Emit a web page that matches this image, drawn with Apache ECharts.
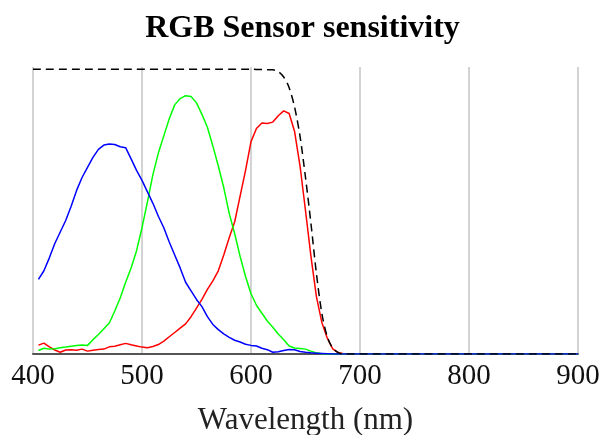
<!DOCTYPE html>
<html>
<head>
<meta charset="utf-8">
<script src="https://cdn.jsdelivr.net/npm/echarts@6/dist/echarts.min.js"></script>
<style>
  html, body { margin: 0; padding: 0; background: #fff; }
  #chart { width: 605px; height: 435px; }
</style>
</head>
<body>
<div id="chart"></div>
<script>
// Sampling wavelengths (nm) for the three colour channels
const wavelengths = [
  405, 410, 415, 420, 425, 430, 435, 440, 445, 450,
  455, 460, 465, 470, 475, 480, 485, 490, 495, 500,
  505, 510, 515, 520, 525, 530, 535, 540, 545, 550,
  555, 560, 565, 570, 575, 580, 585, 590, 595, 600,
  605, 610, 615, 620, 625, 630, 635, 640, 645, 650,
  655, 660, 665, 670, 675, 680, 685, 690, 695, 700,
  900
];

const blueResponse = [
  0.26, 0.29, 0.335, 0.385, 0.425, 0.465, 0.515, 0.57, 0.615, 0.65,
  0.685, 0.713, 0.728, 0.732, 0.73, 0.722, 0.719, 0.68, 0.64, 0.605,
  0.565, 0.525, 0.48, 0.44, 0.39, 0.345, 0.30, 0.25, 0.22, 0.19,
  0.165, 0.13, 0.103, 0.085, 0.07, 0.058, 0.048, 0.042, 0.034, 0.030,
  0.028, 0.02, 0.015, 0.006, 0.008, 0.012, 0.016, 0.015, 0.009, 0.006,
  0.004, 0.003, 0.002, 0.001, 0, 0, 0, 0, 0, 0,
  0
];

const greenResponse = [
  0.012, 0.02, 0.017, 0.018, 0.022, 0.024, 0.027, 0.03, 0.031, 0.03,
  0.05, 0.068, 0.088, 0.108, 0.15, 0.195, 0.25, 0.30, 0.36, 0.44,
  0.53, 0.625, 0.70, 0.76, 0.82, 0.868, 0.89, 0.90, 0.897, 0.875,
  0.835, 0.79, 0.725, 0.655, 0.58, 0.49, 0.42, 0.34, 0.27, 0.21,
  0.17, 0.142, 0.115, 0.093, 0.07, 0.05, 0.028, 0.021, 0.019, 0.017,
  0.01, 0.004, 0.001, 0, 0, 0, 0, 0, 0, 0,
  0
];

const redResponse = [
  0.031, 0.038, 0.025, 0.014, 0.006, 0.014, 0.015, 0.013, 0.017, 0.01,
  0.013, 0.016, 0.017, 0.025, 0.027, 0.032, 0.037, 0.032, 0.028, 0.024,
  0.022, 0.026, 0.033, 0.045, 0.06, 0.075, 0.09, 0.105, 0.13, 0.16,
  0.19, 0.225, 0.255, 0.29, 0.345, 0.405, 0.46, 0.55, 0.64, 0.74,
  0.786, 0.805, 0.803, 0.808, 0.83, 0.847, 0.838, 0.775, 0.655, 0.5,
  0.34, 0.2, 0.11, 0.055, 0.018, 0.005, 0.001, 0, 0, 0,
  0
];

// IR-cut filter transmission
const filterWavelengths = [400, 600, 610, 620, 625, 630, 635, 640, 645, 650, 655, 660, 665, 670, 675, 680, 685, 900];
const filterTransmission = [0.992, 0.992, 0.991, 0.99, 0.984, 0.965, 0.928, 0.86, 0.758, 0.615, 0.455, 0.281, 0.142, 0.06, 0.02, 0.005, 0, 0];

const xTicks = [400, 500, 600, 700, 800, 900];

function pairs(xs, ys) {
  return xs.map((x, i) => [x, ys[i]]);
}

const serif = '"Liberation Serif", "DejaVu Serif", serif';

const chart = echarts.init(document.getElementById('chart'), null, { renderer: 'canvas' });

chart.setOption({
  animation: false,
  backgroundColor: '#fff',
  title: {
    text: 'RGB Sensor sensitivity',
    left: 'center',
    top: 8,
    textStyle: { fontFamily: serif, fontWeight: 'bold', fontSize: 32, color: '#000' }
  },
  grid: { left: 33, right: 27, top: 67, bottom: 81, containLabel: false, outerBoundsMode: 'none' },
  xAxis: {
    type: 'value',
    min: xTicks[0],
    max: xTicks[xTicks.length - 1],
    interval: 100,
    name: 'Wavelength (nm)',
    nameLocation: 'middle',
    nameGap: 51,
    nameTextStyle: { fontFamily: serif, fontSize: 31, color: '#222' },
    axisLine: { show: true, lineStyle: { color: '#555', width: 2 } },
    axisTick: { show: false },
    axisLabel: { fontFamily: serif, fontSize: 29, color: '#111', margin: 8 },
    splitLine: { show: true, lineStyle: { color: '#c4c4c4', width: 1.5 } }
  },
  yAxis: {
    type: 'value',
    min: 0,
    max: 1,
    show: false,
    splitLine: { show: false }
  },
  series: [
    {
      name: 'Red',
      type: 'line',
      data: pairs(wavelengths, redResponse),
      showSymbol: false,
      lineStyle: { color: '#ff0000', width: 1.5 },
      z: 2
    },
    {
      name: 'Green',
      type: 'line',
      data: pairs(wavelengths, greenResponse),
      showSymbol: false,
      lineStyle: { color: '#00ff00', width: 1.5 },
      z: 3
    },
    {
      name: 'Blue',
      type: 'line',
      data: pairs(wavelengths, blueResponse),
      showSymbol: false,
      lineStyle: { color: '#0000ff', width: 1.5 },
      z: 4
    },
    {
      name: 'IR filter',
      type: 'line',
      data: pairs(filterWavelengths, filterTransmission),
      showSymbol: false,
      smooth: 0.3,
      lineStyle: { color: '#000', width: 1.5, type: [8, 5] },
      z: 5
    }
  ]
});
</script>
</body>
</html>
